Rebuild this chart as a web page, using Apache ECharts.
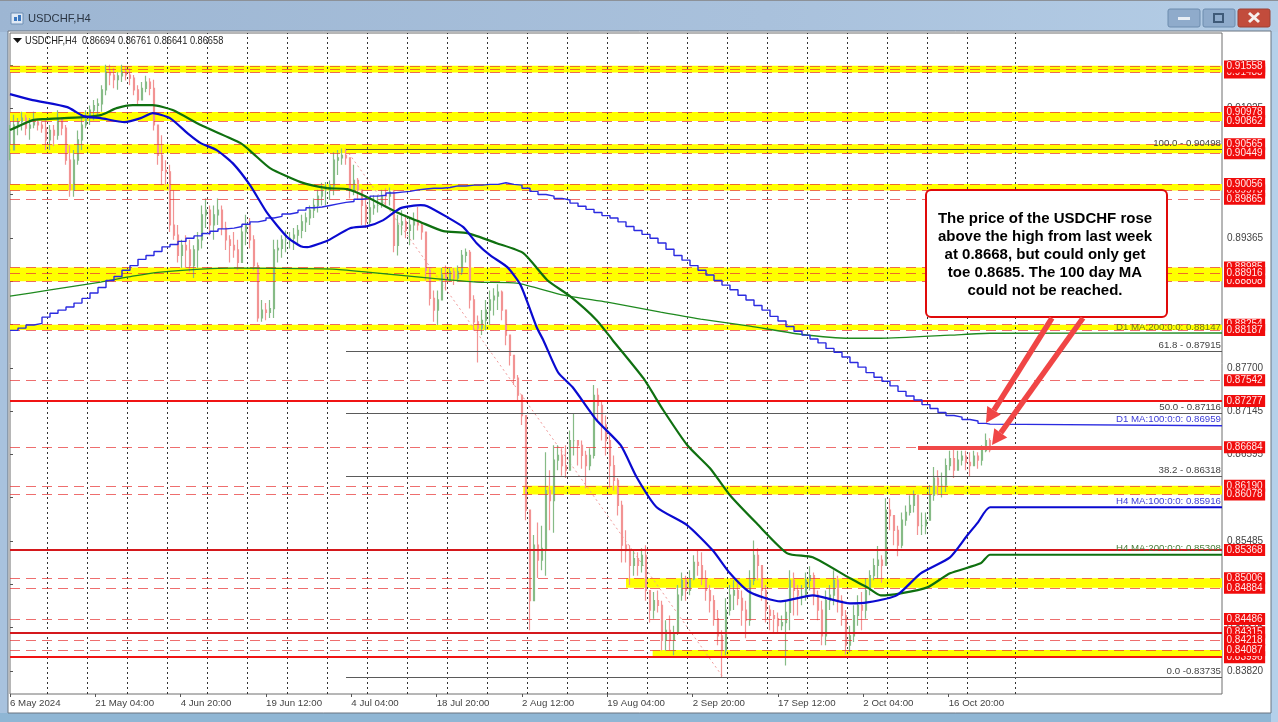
<!DOCTYPE html>
<html>
<head>
<meta charset="utf-8">
<title>USDCHF,H4</title>
<script src="https://cdn.jsdelivr.net/npm/echarts@6/dist/echarts.min.js"></script>
<style>
html, body { margin: 0; padding: 0; background: #b3cbe4; overflow: hidden; }
#chart { width: 1278px; height: 722px; }
</style>
</head>
<body>
<div id="chart"></div>
<script>
var titleText = 'USDCHF,H4';
var headerText = 'USDCHF,H4  0.86694 0.86761 0.86641 0.86658';
var calloutLines = [
	'The price of the USDCHF rose',
	'above the high from last week',
	'at 0.8668, but could only get',
	'toe 0.8685. The 100 day MA',
	'could not be reached.'
];

// x is counted in H4 bars from the left edge of the chart
var lastBar = 909;
var candleStep = 3;
var dateBars = [0, 64, 128, 192, 256, 320, 384, 448, 512, 576, 640, 704];
var dateLabels = ['6 May 2024', '21 May 04:00', '4 Jun 20:00', '19 Jun 12:00', '4 Jul 04:00', '18 Jul 20:00',
	'2 Aug 12:00', '19 Aug 04:00', '2 Sep 20:00', '17 Sep 12:00', '2 Oct 04:00', '16 Oct 20:00'];
var gridBars = [28, 58, 88, 118, 148, 178, 208, 238, 268, 298, 328, 358, 388, 418, 448, 478, 508, 538, 568, 598,
	628, 658, 688, 718, 754];
var priceTicks = [0.83820, 0.84375, 0.84930, 0.85485, 0.86040, 0.86595, 0.87145, 0.87700, 0.88255, 0.88810,
	0.89365, 0.89920, 0.90475, 0.91025, 0.91580];
var priceMin = 0.83525;
var priceMax = 0.91988;

// price levels, drawn in this order so the later tags sit on top
var solidLevels = [0.87277, 0.85368, 0.84315, 0.83996];
var dashedLevels = [0.91520, 0.91483, 0.91558, 0.90978, 0.90862, 0.90565, 0.90449, 0.89973, 0.90056, 0.89865,
	0.88985, 0.88808, 0.88916, 0.88254, 0.88187, 0.87542, 0.86190, 0.86078, 0.85006, 0.84884, 0.84486, 0.84218, 0.84087];
var highOfWeek = 0.86684;
var highOfWeekBar = 681;

// yellow zones: low, high, first bar
var zoneLow = [0.91483, 0.90862, 0.90449, 0.89973, 0.88808, 0.88187, 0.86078, 0.84884, 0.83996];
var zoneHigh = [0.91570, 0.90978, 0.90565, 0.90056, 0.88985, 0.88254, 0.86190, 0.85006, 0.84087];
var zoneStart = [0, 0, 0, 0, 0, 0, 385, 462, 482];

// fibonacci retracement
var fibBar = 252;
var fibEndBar = 535;
var fibPrices = [0.90498, 0.87915, 0.87116, 0.86318, 0.83735];
var fibLabels = ['100.0 - 0.90498', '61.8 - 0.87915', '50.0 - 0.87116', '38.2 - 0.86318', '0.0 -0.83735'];

// high, low, close of every third bar, price x 10000
var candles = [
	[9081,9036,9049],[9094,9049,9081],[9090,9068,9085],[9098,9074,9090],[9094,9068,9077],[9090,9062,9081],[9098,9077,9085],
	[9090,9074,9081],[9087,9071,9077],[9090,9049,9062],[9081,9049,9074],[9081,9054,9068],[9100,9062,9090],[9090,9068,9077],
	[9081,9030,9036],[9055,8989,8998],[9049,8989,9036],[9074,9030,9062],[9090,9049,9081],[9100,9077,9090],[9106,9081,9100],
	[9113,9087,9106],[9115,9094,9108],[9132,9098,9126],[9158,9119,9149],[9158,9132,9145],[9154,9128,9139],[9149,9126,9144],
	[9158,9136,9149],[9156,9138,9145],[9154,9132,9141],[9145,9119,9126],[9132,9106,9113],[9136,9113,9128],[9144,9123,9136],
	[9141,9119,9128],[9139,9074,9081],[9081,9030,9042],[9068,9004,9023],[9036,9004,9021],[9030,8944,8953],[8998,8934,8940],
	[8953,8905,8914],[8934,8898,8927],[8940,8898,8921],[8934,8893,8901],[8927,8885,8921],[8944,8898,8934],[8978,8923,8966],
	[8987,8949,8972],[8978,8940,8953],[8978,8934,8966],[8987,8953,8972],[8978,8940,8949],[8957,8921,8934],[8940,8905,8927],
	[8944,8911,8921],[8934,8895,8905],[8953,8905,8944],[8966,8927,8953],[8962,8923,8934],[8940,8895,8901],[8905,8829,8834],
	[8857,8829,8844],[8853,8831,8841],[8857,8834,8846],[8934,8834,8921],[8934,8905,8923],[8940,8911,8934],[8946,8918,8934],
	[8944,8923,8936],[8949,8921,8940],[8953,8927,8946],[8966,8936,8957],[8969,8944,8962],[8978,8953,8972],[8987,8962,8978],
	[8998,8969,8990],[9007,8978,8998],[9008,8978,8998],[9010,8985,9003],[9046,8991,9036],[9049,9017,9039],[9051,9030,9042],
	[9051,9030,9039],[9039,8987,8998],[9030,8991,9010],[9013,8985,8998],[8990,8953,8978],[8991,8949,8957],[8985,8953,8975],
	[8991,8966,8978],[8991,8969,8978],[8998,8975,8991],[9000,8978,8990],[9001,8978,8995],[8998,8918,8927],[8966,8914,8953],
	[8972,8940,8957],[8966,8936,8946],[8962,8927,8953],[8969,8934,8959],[8976,8946,8953],[8957,8934,8944],[8944,8882,8895],
	[8898,8850,8859],[8869,8829,8844],[8869,8825,8857],[8898,8863,8889],[8901,8869,8882],[8898,8880,8893],[8898,8876,8885],
	[8901,8880,8893],[8921,8889,8914],[8923,8905,8918],[8921,8846,8857],[8863,8818,8829],[8837,8777,8821],[8844,8812,8831],
	[8857,8818,8844],[8869,8825,8857],[8872,8837,8862],[8877,8844,8867],[8869,8831,8844],[8837,8799,8812],[8812,8773,8786],
	[8786,8748,8757],[8761,8729,8735],[8735,8697,8709],[8709,8575,8588],[8588,8434,8472],[8556,8485,8543],[8572,8501,8524],
	[8568,8511,8539],[8662,8504,8613],[8639,8562,8600],[8671,8559,8652],[8671,8639,8658],[8667,8632,8645],[8671,8629,8639],
	[8690,8639,8677],[8711,8658,8677],[8677,8645,8671],[8677,8641,8658],[8664,8616,8645],[8667,8639,8658],[8748,8654,8735],
	[8744,8703,8722],[8729,8677,8697],[8709,8658,8677],[8684,8616,8645],[8658,8613,8626],[8629,8581,8594],[8600,8521,8543],
	[8562,8521,8536],[8543,8492,8517],[8536,8504,8526],[8534,8504,8517],[8539,8508,8530],[8543,8472,8485],[8485,8444,8460],
	[8483,8449,8472],[8485,8457,8466],[8472,8408,8421],[8447,8408,8434],[8453,8408,8421],[8440,8402,8431],[8492,8428,8479],
	[8508,8472,8498],[8504,8472,8485],[8511,8479,8500],[8530,8498,8521],[8536,8504,8517],[8534,8492,8500],[8511,8472,8485],
	[8492,8457,8472],[8479,8440,8449],[8460,8415,8427],[8434,8374,8408],[8475,8402,8460],[8492,8453,8479],[8498,8460,8485],
	[8495,8466,8475],[8485,8440,8460],[8472,8424,8447],[8511,8440,8498],[8549,8492,8530],[8539,8498,8517],[8517,8472,8485],
	[8492,8444,8460],[8466,8434,8453],[8460,8431,8449],[8457,8431,8440],[8453,8434,8444],[8472,8389,8457],[8511,8434,8498],
	[8508,8453,8485],[8492,8453,8479],[8492,8466,8479],[8508,8472,8498],[8516,8485,8504],[8508,8466,8479],[8485,8447,8460],
	[8472,8415,8427],[8485,8415,8472],[8492,8460,8479],[8511,8466,8498],[8504,8457,8472],[8479,8440,8453],[8460,8403,8415],
	[8440,8406,8427],[8466,8419,8453],[8479,8440,8466],[8483,8434,8460],[8501,8449,8485],[8511,8479,8504],[8526,8498,8517],
	[8542,8500,8524],[8530,8495,8517],[8603,8524,8588],[8603,8562,8581],[8581,8543,8562],[8568,8529,8543],[8585,8539,8575],
	[8594,8568,8585],[8607,8581,8594],[8613,8585,8607],[8607,8556,8568],[8585,8556,8568],[8585,8557,8575],[8620,8575,8607],
	[8643,8600,8629],[8639,8607,8620],[8636,8604,8620],[8654,8611,8645],[8664,8639,8654],[8666,8629,8639],[8664,8639,8652],
	[8664,8645,8657],[8664,8639,8649],[8662,8631,8645],[8664,8645,8657],[8662,8641,8652],[8671,8645,8664],[8686,8662,8677],
	[8680,8662,8665]
];

// moving averages: bar, price
var h4Ma100 = [[0,0.91206],[17,0.91129],[43,0.91039],[55,0.90924],[68,0.90898],[86,0.90847],[98,0.90898],[107,0.90962],
	[120,0.90898],[133,0.90706],[143,0.90578],[155,0.90489],[167,0.90322],[180,0.9004],[193,0.89681],[208,0.89374],
	[218,0.89259],[223,0.89246],[233,0.89297],[239,0.89336],[255,0.89489],[268,0.89515],[280,0.89592],[293,0.89746],
	[308,0.89784],[313,0.89771],[328,0.8963],[340,0.89502],[350,0.89297],[360,0.89143],[373,0.8899],[383,0.88759],
	[395,0.88221],[400,0.88055],[411,0.87645],[422,0.87452],[440,0.8703],[458,0.8671],[470,0.863],[485,0.85916],
	[508,0.85685],[527,0.85365],[540,0.8507],[555,0.84827],[578,0.84711],[602,0.84788],[630,0.84686],[643,0.84698],
	[665,0.84788],[683,0.8507],[705,0.85275],[718,0.85557],[726,0.85723],[735,0.85916],[909,0.85916]];
var h4Ma200 = [[0,0.90745],[17,0.90873],[25,0.90886],[55,0.90911],[68,0.90937],[80,0.91026],[92,0.91065],[107,0.91065],
	[122,0.91001],[143,0.90809],[173,0.90578],[182,0.9045],[195,0.90258],[218,0.90079],[238,0.90002],[253,0.89989],
	[268,0.89886],[290,0.89694],[308,0.89566],[325,0.89451],[343,0.89425],[365,0.89297],[385,0.89169],[403,0.88823],
	[420,0.88618],[440,0.88311],[452,0.88055],[475,0.87568],[490,0.87158],[508,0.8671],[525,0.86415],[540,0.86069],
	[560,0.8571],[583,0.85326],[602,0.85275],[630,0.85006],[643,0.8489],[653,0.84788],[668,0.84814],[688,0.8489],
	[705,0.8507],[728,0.85198],[735,0.85308],[909,0.85308]];
var d1Ma200 = [[0,0.88618],[29,0.88695],[68,0.88798],[92,0.88874],[113,0.88926],[143,0.88964],[167,0.88977],[242,0.88964],
	[268,0.88926],[315,0.88849],[350,0.88798],[380,0.88785],[415,0.88631],[448,0.88541],[488,0.88413],[518,0.88324],
	[555,0.88234],[593,0.88131],[630,0.8808],[653,0.8808],[705,0.88119],[735,0.88144],[909,0.88147]];
// one value per day, price x 10000
var d1Ma100 = [8818,8821,8825,8827,8835,8840,8844,8848,8853,8859,8866,8873,8882,8887,8895,8901,8909,8914,8919,8925,8928,
	8932,8936,8939,8942,8945,8948,8949,8951,8954,8957,8959,8962,8964,8967,8969,8972,8975,8976,8978,8980,8982,8983,8986,
	8987,8990,8991,8994,8995,8996,8998,8999,9000,9000,9001,9003,9003,9004,9004,9005,9005,9007,9005,9004,9000,8996,8992,
	8990,8987,8985,8981,8977,8973,8969,8965,8962,8957,8951,8946,8941,8936,8930,8922,8914,8908,8901,8895,8889,8882,8876,
	8870,8863,8857,8850,8844,8836,8830,8823,8817,8812,8807,8802,8795,8790,8784,8777,8771,8764,8758,8753,8747,8740,8734,
	8729,8723,8718,8713,8709,8707,8704,8702,8699,8698];
var d1Ma100End = 0.86959;

var maLabels = [
	{ price: 0.86959, text: 'D1 MA:100:0:0: 0.86959', color: '#3c3cd8' },
	{ price: 0.85916, text: 'H4 MA:100:0:0: 0.85916', color: '#3c3cd8' },
	{ price: 0.85308, text: 'H4 MA:200:0:0: 0.85308', color: '#4a7f3a' },
	{ price: 0.88144, text: 'D1 MA:200:0:0: 0.88147', color: '#6f7a1e' }
];

var chartFont = '"Liberation Sans", Arial, sans-serif';

function priceTag(price) {
	return {
		show: true,
		position: 'end',
		distance: 2,
		formatter: price.toFixed(5),
		color: '#ffe9e9',
		backgroundColor: '#f00c0c',
		fontFamily: chartFont,
		fontSize: 10,
		lineHeight: 11,
		padding: [1, 2.5, 0, 2.5]
	};
}

function buildLevelLines() {
	var lines = [];
	solidLevels.forEach(function(p, i) {
		lines.push({
			yAxis: p,
			lineStyle: { color: i == 0 || i == 3 ? '#f01414' : '#d4181c', width: 2, type: 'solid' },
			label: priceTag(p)
		});
	});
	dashedLevels.forEach(function(p) {
		lines.push({
			yAxis: p,
			lineStyle: { color: 'rgba(232,54,54,0.72)', width: 1, type: [10, 6] },
			label: priceTag(p)
		});
	});
	return lines;
}

function arrow(x1, y1, x2, y2) {
	var color = '#f04545';
	var len = Math.sqrt((x2 - x1) * (x2 - x1) + (y2 - y1) * (y2 - y1));
	var ux = (x2 - x1) / len, uy = (y2 - y1) / len;
	var bx = x2 - ux * 15, by = y2 - uy * 15;
	return [{
		type: 'line', z: 90,
		shape: { x1: x1, y1: y1, x2: bx, y2: by },
		style: { stroke: color, lineWidth: 5.5 }
	}, {
		type: 'polygon', z: 90,
		shape: { points: [[x2, y2], [bx - uy * 8, by + ux * 8], [bx + uy * 8, by - ux * 8]] },
		style: { fill: color }
	}];
}

function chromeElements() {
	var els = [
		{ type: 'rect', z: -10, shape: { x: 0, y: 0, width: 1278, height: 32 },
			style: { fill: new echarts.graphic.LinearGradient(0, 0, 1, 0, [
				{ offset: 0, color: '#9db6d3' }, { offset: 0.6, color: '#a9c1dc' }, { offset: 1, color: '#b4cde6' }
			]) } },
		{ type: 'rect', z: -10, shape: { x: 0, y: 0, width: 1278, height: 1 }, style: { fill: '#8c9198' } },
		{ type: 'rect', z: -10, shape: { x: 0, y: 32, width: 8, height: 690 }, style: { fill: '#a8c2de' } },
		{ type: 'rect', z: -9, shape: { x: 8, y: 31, width: 1263, height: 682 }, style: { fill: '#ffffff', stroke: '#6b7480', lineWidth: 1 } },
		{ type: 'rect', z: -10, shape: { x: 0, y: 713, width: 1278, height: 9 }, style: { fill: '#8fb6d4' } },
		{ type: 'rect', z: -10, shape: { x: 1271, y: 32, width: 7, height: 690 }, style: { fill: '#b4d0ea' } },
		// title bar
		{ type: 'rect', z: 5, shape: { x: 11, y: 13, width: 12, height: 11 }, style: { fill: '#dfe9f5', stroke: '#6f8fb4', lineWidth: 1 } },
		{ type: 'rect', z: 5, shape: { x: 14, y: 17, width: 3, height: 4 }, style: { fill: '#3c78c0' } },
		{ type: 'rect', z: 5, shape: { x: 18, y: 15, width: 3, height: 6 }, style: { fill: '#3c78c0' } },
		{ type: 'text', z: 5, x: 28, y: 19, style: { text: titleText, fill: '#2b3644', fontFamily: chartFont, fontSize: 11.2, verticalAlign: 'middle' } },
		// window buttons
		{ type: 'rect', z: 5, shape: { x: 1168, y: 9, width: 32, height: 18, r: 2 }, style: { fill: '#8fabcb', stroke: '#6d8cae', lineWidth: 1 } },
		{ type: 'rect', z: 6, shape: { x: 1178, y: 17, width: 12, height: 3 }, style: { fill: '#e8eef5' } },
		{ type: 'rect', z: 5, shape: { x: 1203, y: 9, width: 32, height: 18, r: 2 }, style: { fill: '#8fabcb', stroke: '#6d8cae', lineWidth: 1 } },
		{ type: 'rect', z: 6, shape: { x: 1214, y: 14, width: 9, height: 8 }, style: { fill: 'none', stroke: '#3f5a78', lineWidth: 2 } },
		{ type: 'rect', z: 5, shape: { x: 1238, y: 9, width: 32, height: 18, r: 2 }, style: { fill: '#c24c3c', stroke: '#9c4034', lineWidth: 1 } },
		{ type: 'line', z: 6, shape: { x1: 1249, y1: 13, x2: 1259, y2: 22 }, style: { stroke: '#f5f0ee', lineWidth: 3 } },
		{ type: 'line', z: 6, shape: { x1: 1259, y1: 13, x2: 1249, y2: 22 }, style: { stroke: '#f5f0ee', lineWidth: 3 } },
		// chart header
		{ type: 'polygon', z: 80, shape: { points: [[13, 38], [22, 38], [17.5, 43]] }, style: { fill: '#111' } },
		{ type: 'text', z: 80, x: 25, y: 41, scaleX: 0.88, style: { text: headerText, fill: '#222', fontFamily: chartFont, fontSize: 10.5, verticalAlign: 'middle' } },
		// callout
		{ type: 'rect', z: 85, shape: { x: 926, y: 190, width: 241, height: 127, r: 5 }, style: { fill: '#fff', stroke: '#e00a0a', lineWidth: 2 } }
	];
	calloutLines.forEach(function(line, i) {
		els.push({
			type: 'text', z: 86, x: 1045, y: 218.5 + i * 18,
			style: { text: line, fill: '#000', fontFamily: chartFont, fontWeight: 'bold', fontSize: 15, align: 'center', verticalAlign: 'middle' }
		});
	});
	return els.concat(arrow(1052, 318, 986, 423), arrow(1083, 318, 992, 445));
}

var candleData = candles.map(function(c, i) {
	var open = i == 0 ? c[2] : candles[i - 1][2];
	return [i * candleStep, open / 10000, c[2] / 10000, c[1] / 10000, c[0] / 10000];
});

var d1Ma100Data = d1Ma100.map(function(v, i) {
	return [i * 6, v / 10000];
});
d1Ma100Data.push([735, d1Ma100End], [lastBar, d1Ma100End]);

var zoneAreas = zoneLow.map(function(low, i) {
	return [{ xAxis: zoneStart[i], yAxis: zoneHigh[i] }, { xAxis: lastBar, yAxis: low }];
});

var gridLines = gridBars.map(function(b) {
	return { xAxis: b };
});

var fibLines = fibPrices.map(function(p, i) {
	return [{
		coord: [fibBar, p],
		lineStyle: { color: i == 0 ? '#5c5c38' : '#5a5a5a', width: 1, type: 'solid' },
		label: { show: true, position: 'insideEndTop', distance: 1, formatter: fibLabels[i], color: '#444', fontFamily: chartFont, fontSize: 9.7 }
	}, { coord: [lastBar, p] }];
});

var maTextLines = maLabels.map(function(m) {
	return [{
		coord: [lastBar - 1, m.price],
		lineStyle: { width: 0 },
		label: { show: true, position: 'insideEndTop', distance: 1, formatter: m.text, color: m.color, fontFamily: chartFont, fontSize: 9.7 }
	}, { coord: [lastBar, m.price] }];
});

var highOfWeekLines = [
	[{ coord: [0, highOfWeek], lineStyle: { color: 'rgba(232,54,54,0.72)', width: 1, type: [10, 6] } }, { coord: [highOfWeekBar, highOfWeek] }],
	[{ coord: [highOfWeekBar, highOfWeek], lineStyle: { color: '#f04848', width: 4, type: 'solid' } }, { coord: [lastBar, highOfWeek], label: priceTag(highOfWeek) }]
];

var myChart = echarts.init(document.getElementById('chart'), null, { renderer: 'canvas' });

function lineSeries(name, data, color, width, z) {
	return {
		name: name,
		type: 'line',
		data: data,
		showSymbol: false,
		silent: true,
		smooth: 0.2,
		z: z,
		lineStyle: { color: color, width: width }
	};
}

option = {
	animation: false,
	backgroundColor: 'transparent',
	textStyle: { fontFamily: chartFont },
	graphic: { elements: chromeElements() },
	grid: {
		left: 10,
		top: 33,
		width: 1212,
		height: 661,
		show: true,
		backgroundColor: 'transparent',
		borderColor: '#6e6e6e',
		borderWidth: 1
	},
	xAxis: {
		type: 'value',
		min: 0,
		max: lastBar,
		splitLine: { show: false },
		axisLine: { show: false },
		axisTick: { show: true, length: 3, customValues: dateBars, lineStyle: { color: '#555' } },
		axisLabel: {
			customValues: dateBars,
			align: 'left',
			margin: 4,
			color: '#444',
			fontFamily: chartFont,
			fontSize: 9.7,
			formatter: function(v) {
				return dateLabels[dateBars.indexOf(v)];
			}
		}
	},
	yAxis: {
		type: 'value',
		position: 'right',
		min: priceMin,
		max: priceMax,
		splitLine: { show: false },
		axisLine: { show: false },
		axisTick: { show: true, length: 3, customValues: priceTicks, lineStyle: { color: '#555' } },
		axisLabel: {
			customValues: priceTicks,
			margin: 5,
			color: '#444',
			fontFamily: chartFont,
			fontSize: 10,
			formatter: function(v) {
				return v.toFixed(5);
			}
		}
	},
	series: [
		{
			name: 'zones',
			type: 'line',
			data: [],
			z: 1,
			silent: true,
			markArea: {
				silent: true,
				itemStyle: { color: '#ffff00' },
				data: zoneAreas
			}
		},
		{
			name: 'grid',
			type: 'line',
			data: [],
			z: 1,
			silent: true,
			markLine: {
				silent: true,
				symbol: ['none', 'none'],
				precision: 5,
				label: { show: false },
				lineStyle: { color: '#333', width: 1, type: [2, 3] },
				data: gridLines
			}
		},
		{
			name: 'fib trend',
			type: 'line',
			data: [[fibBar, fibPrices[0]], [fibEndBar, fibPrices[4]]],
			showSymbol: false,
			silent: true,
			z: 2,
			lineStyle: { color: '#f09a9a', width: 1, type: [2, 3] }
		},
		{
			name: 'USDCHF',
			type: 'candlestick',
			data: candleData,
			encode: { x: 0, y: [1, 2, 3, 4] },
			barWidth: 2,
			silent: true,
			z: 3,
			itemStyle: {
				color: '#86bb86',
				color0: '#f29393',
				borderColor: '#86bb86',
				borderColor0: '#f29393',
				borderWidth: 1.2
			}
		},
		{
			name: 'levels',
			type: 'line',
			data: [],
			z: 4,
			silent: true,
			markLine: {
				silent: true,
				symbol: ['none', 'none'],
				animation: false,
				precision: 5,
				data: buildLevelLines().concat(fibLines, highOfWeekLines, maTextLines)
			}
		},
		lineSeries('D1 MA200', d1Ma200, '#1f8a1f', 1.3, 5),
		{
			name: 'D1 MA100',
			type: 'line',
			data: d1Ma100Data,
			step: 'end',
			showSymbol: false,
			silent: true,
			z: 5,
			lineStyle: { color: '#2a2ae0', width: 1.4 }
		},
		lineSeries('H4 MA200', h4Ma200, '#0f7010', 2.2, 6),
		lineSeries('H4 MA100', h4Ma100, '#0a0ad0', 2.2, 6)
	]
};

if (option && typeof option === "object") {
	myChart.setOption(option, true);
}
</script>
</body>
</html>
